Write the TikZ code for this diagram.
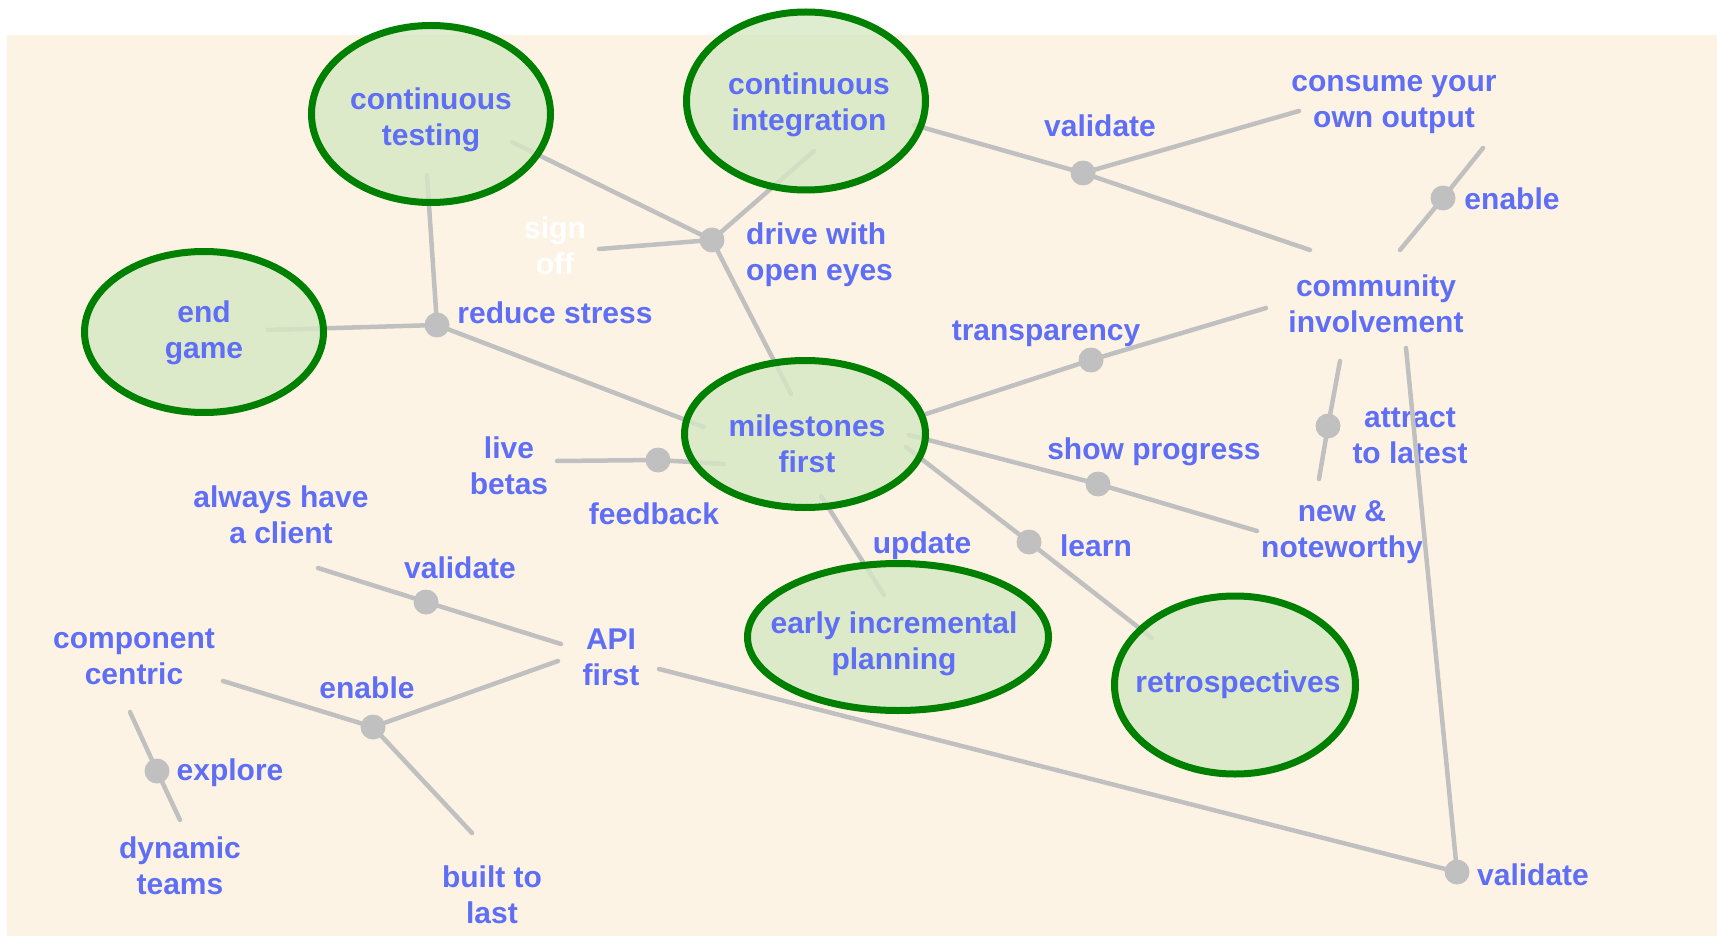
\documentclass[tikz,border=0pt]{standalone}
\usepackage{fontspec}
\setmainfont{Liberation Sans}
\usetikzlibrary{shapes.geometric}
\definecolor{cream}{RGB}{253,243,228}
\definecolor{txtblue}{RGB}{94,110,245}
\definecolor{linegray}{RGB}{192,192,192}
\definecolor{ellgreen}{RGB}{0,128,0}
\definecolor{ellfill}{RGB}{214,232,196}
\begin{document}
\begin{tikzpicture}[x=1pt,y=-1pt,
 lbl/.style={text=txtblue,font=\fontsize{30}{36}\selectfont\bfseries,align=center,inner sep=0pt,yshift=-3pt},
 conn/.style={draw=linegray,line width=4.5pt,line cap=round},
 junction/.style={circle,fill=linegray,minimum size=25pt,inner sep=0pt},
 bubble/.style={ellipse,draw=ellgreen,line width=7pt,fill=ellfill,fill opacity=0.8,draw opacity=1,inner sep=0pt},
]
\useasboundingbox (0,0) rectangle (1717,936);
\fill[white] (0,0) rectangle (1717,936);
\fill[cream] (7,35) rectangle (1717,936);

% junction dots
\node[junction] (jds) at (712,240) {};
\node[junction] (jrs) at (437,325) {};
\node[junction] (jvt) at (1083,173) {};
\node[junction] (jet) at (1443,198) {};
\node[junction] (jtr) at (1091,360) {};
\node[junction] (jsp) at (1098,484) {};
\node[junction] (jat) at (1328,426) {};
\node[junction] (jfb) at (658,460) {};
\node[junction] (jle) at (1029,542) {};
\node[junction] (jvm) at (426,602) {};
\node[junction] (jel) at (373,727) {};
\node[junction] (jex) at (157,771) {};
\node[junction] (jvb) at (1457,872) {};

% free labels
\node[lbl,text=white] (signoff) at (555,243) {sign\\off};
\node[lbl,align=left,anchor=west] (drive) at (746,252) {drive with\\open eyes};
\node[lbl] (reduce) at (555,310) {reduce stress};
\node[lbl] (valtop) at (1100,123) {validate};
\node[lbl] (consume) at (1394,102) {consume your\\own output};
\node[lbl] (entop) at (1512,196) {enable};
\node[lbl] (community) at (1376,301) {community\\involvement};
\node[lbl] (transp) at (1046,331) {transparency};
\node[lbl] (showp) at (1154,449) {show progress};
\node[lbl] (attract) at (1410,433) {attract\\to latest};
\node[lbl] (newnote) at (1342,529) {new \&\\noteworthy};
\node[lbl] (live) at (509,463) {live\\betas};
\node[lbl] (feedback) at (654,511) {feedback};
\node[lbl] (update) at (922,543) {update};
\node[lbl] (learn) at (1096,543) {learn};
\node[lbl] (always) at (281,512) {always have\\a client};
\node[lbl] (valmid) at (460,565) {validate};
\node[lbl] (api) at (611,654) {API\\first};
\node[lbl] (component) at (134,654) {component\\centric};
\node[lbl] (enlow) at (367,685) {enable};
\node[lbl] (explore) at (230,770) {explore};
\node[lbl] (dynamic) at (180,863) {dynamic\\teams};
\node[lbl] (built) at (492,892) {built to\\last};
\node[lbl] (valbr) at (1533,872) {validate};

% connector ends
\coordinate (ctA) at (512,142);
\coordinate (ciA) at (814,151);
\coordinate (soA) at (599,249);
\coordinate (msA) at (791,394);
\coordinate (ctB) at (427,175);
\coordinate (egA) at (268,330);
\coordinate (msB) at (704,427);
\coordinate (ciB) at (914,125);
\coordinate (coA) at (1299,111);
\coordinate (cmA) at (1310,250);
\coordinate (cmB) at (1400,250);
\coordinate (coB) at (1483,148);
\coordinate (msC) at (926,414);
\coordinate (cmC) at (1266,308);
\coordinate (msD) at (909,435);
\coordinate (nnA) at (1257,531);
\coordinate (cmD) at (1340,361);
\coordinate (nnB) at (1319,479);
\coordinate (cmE) at (1406,348);
\coordinate (apA) at (659,669);
\coordinate (msE) at (906,447);
\coordinate (reA) at (1152,638);
\coordinate (msF) at (724,464);
\coordinate (lbA) at (557,461);
\coordinate (msG) at (821,496);
\coordinate (eiA) at (884,595);
\coordinate (acA) at (318,568);
\coordinate (apB) at (561,644);
\coordinate (apC) at (558,661);
\coordinate (ccA) at (223,681);
\coordinate (blA) at (472,833);
\coordinate (ccB) at (130,712);
\coordinate (dtA) at (180,820);

% connectors
\draw[conn] (ctA) -- (jds.center);
\draw[conn] (ciA) -- (jds.center);
\draw[conn] (soA) -- (jds.center);
\draw[conn] (jds.center) -- (msA);
\draw[conn] (ctB) -- (jrs.center);
\draw[conn] (egA) -- (jrs.center);
\draw[conn] (jrs.center) -- (msB);
\draw[conn] (ciB) -- (jvt.center);
\draw[conn] (jvt.center) -- (coA);
\draw[conn] (jvt.center) -- (cmA);
\draw[conn] (cmB) -- (jet.center);
\draw[conn] (jet.center) -- (coB);
\draw[conn] (msC) -- (jtr.center);
\draw[conn] (jtr.center) -- (cmC);
\draw[conn] (msD) -- (jsp.center);
\draw[conn] (jsp.center) -- (nnA);
\draw[conn] (cmD) -- (jat.center);
\draw[conn] (jat.center) -- (nnB);
\draw[conn] (cmE) -- (jvb.center);
\draw[conn] (apA) -- (jvb.center);
\draw[conn] (msE) -- (jle.center);
\draw[conn] (jle.center) -- (reA);
\draw[conn] (msF) -- (jfb.center);
\draw[conn] (jfb.center) -- (lbA);
\draw[conn] (msG) -- (eiA);
\draw[conn] (acA) -- (jvm.center);
\draw[conn] (jvm.center) -- (apB);
\draw[conn] (apC) -- (jel.center);
\draw[conn] (jel.center) -- (ccA);
\draw[conn] (jel.center) -- (blA);
\draw[conn] (ccB) -- (jex.center);
\draw[conn] (jex.center) -- (dtA);

% bubbles
\node[bubble,minimum width=239pt,minimum height=177pt] (ct) at (431,114) {};
\node[bubble,minimum width=239pt,minimum height=178pt] (ci) at (806,101) {};
\node[bubble,minimum width=239pt,minimum height=161pt] (eg) at (204,332) {};
\node[bubble,minimum width=241pt,minimum height=147pt] (ms) at (805,434) {};
\node[bubble,minimum width=301pt,minimum height=147pt] (ei) at (898,637) {};
\node[bubble,minimum width=241pt,minimum height=178pt] (re) at (1235,685) {};

\node[lbl] (ctT) at (431,117) {continuous\\testing};
\node[lbl] (ciT) at (809,102) {continuous\\integration};
\node[lbl] (egT) at (204,330) {end\\game};
\node[lbl] (msT) at (807,441) {milestones\\first};
\node[lbl] (eiT) at (894,641) {early incremental\\planning};
\node[lbl] (reT) at (1238,682) {retrospectives};
\end{tikzpicture}
\end{document}
